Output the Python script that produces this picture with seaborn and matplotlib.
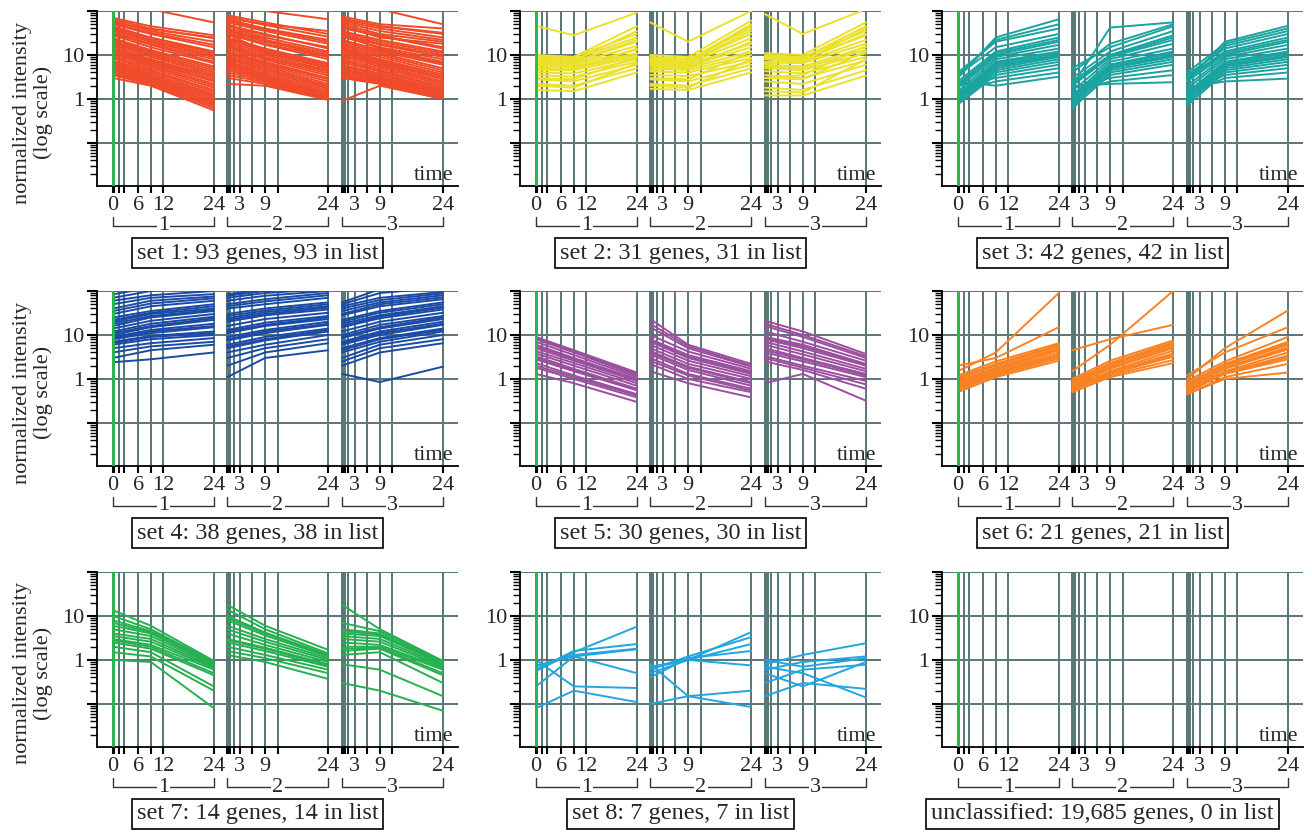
import pandas as pd
import matplotlib
matplotlib.use("Agg")
import matplotlib.pyplot as plt
import seaborn as sns
from matplotlib.ticker import LogLocator, NullFormatter

sns.set_theme(style="white")
plt.rcParams['font.family'] = ['Liberation Serif', 'DejaVu Serif']

# sampling times (hours) of the three series, and where each series sits on the shared x axis
times_1 = [0, 0.3, 1.5, 2.7, 6, 9, 12, 24]
times_23 = [0, 0.3, 0.6, 1.5, 3, 6, 9, 12, 24]
series_offsets = [0, 27.2, 54.5]
series_names = ["1", "2", "3"]
labels_1 = {0: "0", 6: "6", 12: "12", 24: "24"}
labels_23 = {3: "3", 9: "9", 24: "24"}

# each gene: value at t = 0, 9, 24 h for series 1 | series 2 | series 3
knot_times = [0, 9, 24]

set1_genes = [
    [70, 45, 28, 80, 55, 30, 75, 50, 40],
    [65, 40, 24, 72, 48, 26, 68, 45, 32],
    [60, 35, 20, 65, 40, 22, 60, 40, 25],
    [52, 32, 17, 60, 38, 20, 55, 35, 22],
    [50, 30, 15, 55, 35, 18, 50, 30, 20],
    [45, 25, 12, 45, 28, 15, 40, 28, 15],
    [42, 24, 11, 48, 30, 14, 45, 27, 14],
    [38, 22, 10, 40, 25, 12, 35, 22, 12],
    [35, 20, 9, 37, 22, 11, 33, 20, 11],
    [32, 18, 8, 35, 20, 10, 30, 18, 10],
    [30, 17, 7, 32, 18, 9, 28, 17, 9],
    [28, 15, 6.5, 30, 17, 8, 26, 15, 8],
    [24, 13, 5.5, 25, 14, 6.5, 22, 13, 6.5],
    [22, 12, 5, 23, 13, 6, 20, 12, 6],
    [20, 11, 4.5, 22, 12, 5.5, 18, 11, 5],
    [18.5, 10, 4, 20, 11, 5, 16.5, 10, 4.5],
    [17, 9, 3.6, 18, 10, 4.5, 15, 9, 4],
    [15.5, 8, 3.3, 16.5, 9, 4.2, 14, 8, 3.6],
    [14, 7.5, 3, 15, 8.5, 3.8, 13, 7.5, 3.3],
    [13, 7, 2.7, 13.5, 7.8, 3.4, 12, 7, 3],
    [12, 6.5, 2.5, 12, 7, 3, 11, 6.5, 2.8],
    [11, 6, 2.2, 11, 6.5, 2.8, 10, 6, 2.5],
    [10, 5.5, 2, 10, 6, 2.5, 9, 5.5, 2.3],
    [9, 5, 1.8, 9, 5.5, 2.2, 8, 5, 2.1],
    [8.5, 4.5, 1.6, 8.5, 5, 2, 7.5, 4.5, 1.9],
    [7.5, 4.2, 1.45, 7.8, 4.6, 1.85, 6.8, 4.2, 1.75],
    [7, 3.8, 1.3, 7, 4.2, 1.7, 6, 3.8, 1.6],
    [6.5, 3.5, 1.2, 6.5, 3.8, 1.55, 5.5, 3.5, 1.5],
    [6, 3.2, 1.1, 6, 3.5, 1.4, 5, 3.2, 1.4],
    [5.5, 3, 1.0, 5.5, 3.2, 1.3, 4.6, 3, 1.3],
    [5, 2.8, 0.9, 5, 3, 1.2, 4.2, 2.8, 1.2],
    [4.6, 2.6, 0.82, 4.5, 2.8, 1.1, 3.8, 2.6, 1.1],
    [4.2, 2.4, 0.75, 4, 2.6, 1.05, 3.5, 2.4, 1.05],
    [3.8, 2.3, 0.68, 3.5, 2.4, 1.0, 3.2, 2.3, 1.02],
    [3.5, 2.1, 0.62, 3, 2.2, 0.98, 3, 2.2, 1.0],
    [3, 2.0, 0.55, 2.2, 2.0, 0.95, 0.9, 2.0, 1.0],
    [120, 110, 55, 130, 100, 65, 140, 110, 50],
    [55, 38, 25, 70, 50, 35, 65, 45, 30],
    [40, 20, 9, 50, 22, 9, 45, 25, 18],
    [25, 10, 4, 30, 12, 5, 28, 14, 7],
]

set2_genes = [
    [46, 28, 92, 55, 20, 100, 85, 30, 110],
    [10, 9, 45, 10, 9, 60, 11, 10, 55],
    [9, 8, 25, 9, 8, 40, 10, 9, 35],
    [8.5, 7.5, 35, 8.5, 7.5, 50, 9.5, 8.5, 45],
    [8, 7, 20, 8, 7, 30, 9, 8, 28],
    [7.5, 7, 22, 7.5, 7, 35, 8.5, 7.5, 30],
    [7, 6.5, 16, 7, 6.5, 24, 8, 7, 22],
    [6.5, 6, 13, 6.5, 6, 18, 7, 6.5, 18],
    [6, 5.5, 11, 6, 5.5, 15, 6, 5.5, 15],
    [5.5, 5, 10, 5.5, 5, 12, 5.5, 5, 13],
    [5, 4.5, 9, 5, 4.5, 10, 5, 4.5, 11],
    [4, 3.8, 8, 4.2, 4, 8.5, 4.3, 3.8, 9],
    [3.5, 3.2, 7, 3.5, 3.3, 7, 3.5, 3, 7.5],
    [3, 2.8, 9, 3, 2.8, 12, 3, 2.8, 12],
    [2.8, 2.5, 6, 2.8, 2.5, 6, 2.5, 2.2, 6],
    [2.2, 2, 5, 2.2, 2, 5, 1.8, 1.6, 4.5],
    [2, 1.8, 6.5, 2, 1.8, 8, 1.5, 1.4, 8],
    [1.6, 1.5, 4, 1.7, 1.6, 4, 1.2, 1.2, 3.4],
    [9.5, 9, 30, 7, 7.5, 45, 6.5, 7, 40],
    [4.5, 4.5, 14, 4.5, 5, 20, 3, 3.5, 16],
]

set3_genes = [
    [3, 25, 65, 2, 42, 55, 2.5, 20, 46],
    [3.5, 22, 50, 4, 18, 50, 3.2, 16, 35],
    [4, 20, 40, 5, 15, 45, 4, 18, 40],
    [3.5, 15, 30, 3, 12, 35, 3.5, 14, 30],
    [2.5, 12, 25, 2.5, 10, 28, 3, 12, 25],
    [2.2, 11, 22, 2.2, 9.5, 25, 2.8, 11, 22],
    [2, 10, 20, 2, 9, 22, 2.5, 10, 20],
    [1.8, 9, 17, 1.5, 8, 18, 2, 9, 17],
    [1.5, 8, 14, 1.2, 7, 14, 1.7, 8, 14],
    [1.3, 7, 12, 1, 6, 12, 1.4, 7, 12],
    [1.2, 6.5, 11, 1.1, 6, 11, 1.3, 6.5, 11],
    [1.1, 6, 10, 0.9, 5.5, 10, 1.2, 6, 10],
    [1, 5.5, 9.5, 0.85, 5, 9.5, 1.1, 5.8, 9.5],
    [1, 5, 9, 0.8, 5, 9, 1, 5.5, 9],
    [0.9, 4.5, 8, 0.7, 4.5, 8, 0.9, 5, 8],
    [0.8, 4, 7, 0.6, 4, 7, 0.8, 4.5, 7],
    [0.75, 3.5, 6, 0.65, 3.5, 6, 0.7, 4, 6],
    [2, 3, 5, 1.8, 3, 4.5, 1.5, 3.5, 5],
    [1.5, 2.5, 4, 1.4, 2.5, 3.5, 1.2, 3, 4],
    [2.5, 2, 3.2, 2, 2.2, 2.4, 1.8, 2.5, 2.9],
]

set4_genes = [
    [84, 120, 150, 84, 110, 140, 55, 110, 160],
    [70, 100, 130, 78, 100, 120, 50, 90, 120],
    [60, 80, 100, 70, 90, 110, 45, 70, 95],
    [50, 70, 85, 60, 78, 100, 40, 62, 88],
    [40, 60, 75, 50, 65, 90, 35, 55, 80],
    [35, 52, 68, 45, 58, 80, 30, 50, 72],
    [30, 45, 60, 40, 50, 70, 28, 45, 65],
    [25, 35, 50, 30, 40, 55, 22, 35, 55],
    [22, 32, 45, 27, 36, 50, 20, 32, 50],
    [20, 30, 40, 24, 33, 45, 18, 28, 45],
    [18, 27, 37, 22, 30, 42, 16, 26, 42],
    [16, 25, 35, 20, 28, 38, 15, 24, 38],
    [14, 21, 30, 16, 23, 32, 12, 20, 32],
    [12, 18, 26, 13, 19, 27, 10, 17, 27],
    [11, 16, 24, 12, 17, 25, 9, 15, 25],
    [10, 15, 22, 11, 16, 23, 8.5, 14, 23],
    [9, 13, 18, 9, 13, 20, 7, 12, 20],
    [8.5, 12, 16, 8, 12, 18, 6.5, 11, 18],
    [8, 11, 15, 7.5, 11, 17, 6, 10, 17],
    [7, 9.5, 12, 6, 9, 14, 5, 8.5, 14],
    [6.5, 9, 11, 5.5, 8, 13, 4.5, 8, 13],
    [6, 8, 10, 5, 7.5, 12, 4, 7, 12],
    [5, 6.5, 8.5, 4, 6, 10, 3, 6, 10],
    [4, 5.5, 7, 3, 5, 8, 2.5, 5, 8],
    [3, 4.5, 6, 2, 4, 6.5, 2, 4, 6.5],
    [2.4, 2.8, 4, 1.1, 3, 4.5, 1.3, 0.85, 1.9],
]

set5_genes = [
    [9, 4.5, 1.4, 23, 6, 2.2, 21, 12, 3.7],
    [8.5, 4.2, 1.3, 18, 5.5, 2, 18, 10, 3.3],
    [8, 4, 1.2, 15, 5, 1.9, 16, 9, 3],
    [7, 3.5, 1.1, 10, 4.2, 1.7, 12, 7, 2.6],
    [6, 3, 1.0, 8, 3.5, 1.5, 9, 6, 2.2],
    [5.5, 2.8, 0.95, 7.5, 3.2, 1.4, 8.5, 5.5, 2.1],
    [5, 2.6, 0.9, 7, 3, 1.3, 8, 5, 2],
    [4.3, 2.3, 0.8, 6, 2.6, 1.15, 7, 4.2, 1.7],
    [3.8, 2, 0.7, 5, 2.2, 1.0, 6, 3.6, 1.5],
    [3.3, 1.7, 0.6, 4.3, 1.9, 0.85, 5, 3, 1.3],
    [3, 1.6, 0.58, 4, 1.8, 0.8, 4.5, 2.8, 1.2],
    [2.8, 1.5, 0.55, 3.6, 1.6, 0.7, 4, 2.5, 1.1],
    [2.3, 1.2, 0.45, 3, 1.3, 0.6, 3.3, 2, 0.9],
    [2, 1.1, 0.42, 2.6, 1.2, 0.55, 3, 1.8, 0.75],
    [1.8, 1, 0.38, 2.2, 1.0, 0.5, 2.5, 1.6, 0.6],
    [1.3, 0.8, 0.3, 1.5, 0.8, 0.38, 0.8, 1.3, 0.32],
]

set6_genes = [
    [1.5, 4, 90, 1.5, 6, 100, 1, 5, 36],
    [2, 3, 15, 4.5, 8, 17, 1.2, 4, 15],
    [1.2, 2.5, 6.5, 1, 2.6, 7.5, 0.9, 2.5, 9],
    [1.1, 2.2, 6, 0.9, 2.3, 6.8, 0.8, 2.2, 7],
    [1.05, 2.1, 5.8, 0.85, 2.2, 6.4, 0.78, 2.1, 6.5],
    [1, 2, 5.5, 0.8, 2.1, 6, 0.75, 2, 6],
    [0.9, 1.8, 5, 0.75, 1.9, 5.5, 0.7, 1.8, 5.3],
    [0.85, 1.7, 4.8, 0.72, 1.8, 5.2, 0.68, 1.75, 5],
    [0.8, 1.6, 4.5, 0.7, 1.7, 5, 0.65, 1.7, 4.7],
    [0.75, 1.5, 4, 0.65, 1.5, 4.4, 0.6, 1.5, 4],
    [0.7, 1.4, 3.6, 0.6, 1.4, 3.8, 0.55, 1.4, 3.4],
    [0.65, 1.35, 3.4, 0.58, 1.35, 3.5, 0.52, 1.35, 3.1],
    [0.6, 1.3, 3.2, 0.55, 1.3, 3.2, 0.5, 1.3, 2.8],
    [0.55, 1.2, 2.9, 0.5, 1.2, 2.7, 0.45, 1.1, 2.2],
    [0.5, 1.1, 2.6, 0.5, 1.1, 2.3, 0.45, 1.0, 1.4],
]

set7_genes = [
    [13.5, 6, 0.95, 18, 6, 1.7, 18, 5, 0.95],
    [10, 5, 0.9, 14, 5, 1.4, 7, 4.5, 0.9],
    [8, 4.5, 0.85, 10, 4.2, 1.3, 5, 4, 0.85],
    [7, 4.2, 0.82, 9, 4, 1.25, 4.5, 3.8, 0.82],
    [6, 4, 0.8, 8, 3.6, 1.2, 4, 3.5, 0.8],
    [5, 3.5, 0.75, 6, 3, 1.1, 3.5, 3, 0.75],
    [4, 3, 0.7, 5, 2.6, 1.0, 3, 2.6, 0.7],
    [3.5, 2.6, 0.65, 4, 2.2, 0.9, 2.5, 2.2, 0.65],
    [3, 2.2, 0.6, 3, 1.9, 0.8, 2, 2.0, 0.6],
    [2.8, 2, 0.5, 2.8, 1.8, 0.75, 1.8, 1.9, 0.5],
    [2.5, 1.8, 0.45, 2.5, 1.6, 0.7, 1.6, 1.8, 0.45],
    [2, 1.5, 0.25, 2, 1.3, 0.6, 1.3, 1.5, 0.3],
    [1.5, 1.2, 0.2, 1.6, 1.1, 0.5, 0.8, 0.6, 0.15],
    [1, 0.9, 0.08, 1.3, 0.9, 0.37, 0.3, 0.2, 0.07],
]

set8_genes = [
    [0.56, 1.5, 5.7, 0.7, 1.0, 4.3, 0.8, 1.3, 2.4],
    [0.6, 1.6, 2.3, 0.6, 1.2, 3.3, 0.6, 0.9, 1.2],
    [0.7, 1.3, 1.8, 0.5, 1.0, 2.3, 1.0, 0.7, 1.1],
    [1.0, 0.25, 0.23, 0.8, 0.15, 0.085, 0.7, 0.5, 0.14],
    [0.75, 1.2, 0.5, 0.65, 1.0, 0.75, 0.5, 0.25, 0.9],
    [0.25, 1.2, 1.75, 0.1, 0.15, 0.2, 0.3, 0.6, 0.78],
    [0.08, 0.2, 0.11, 0.4, 1.1, 1.6, 0.15, 0.3, 0.22],
]

set_genes = [set1_genes, set2_genes, set3_genes, set4_genes, set5_genes,
             set6_genes, set7_genes, set8_genes, []]
set_colors = ["#f04a28", "#ebe02a", "#1aa3a0", "#1a4aa5", "#9b4f9f",
              "#f98224", "#26b050", "#22a5e0", "#000000"]
set_titles = ["set 1: 93 genes, 93 in list", "set 2: 31 genes, 31 in list",
              "set 3: 42 genes, 42 in list", "set 4: 38 genes, 38 in list",
              "set 5: 30 genes, 30 in list", "set 6: 21 genes, 21 in list",
              "set 7: 14 genes, 14 in list", "set 8: 7 genes, 7 in list",
              "unclassified: 19,685 genes, 0 in list"]

grid_col = "#587676"
W, H = 1312, 832
col_left = [97, 520, 942]
row_top = [11, 291, 572]
ax_w, ax_h = 361, 175

# x tick positions and labels shared by all panels
xticks, xlabels = [], []
for k, off in enumerate(series_offsets):
    tt = times_1 if k == 0 else times_23
    lab = labels_1 if k == 0 else labels_23
    for t in tt:
        xticks.append(off + t)
        xlabels.append(lab.get(t, ""))

fig = plt.figure(figsize=(W / 100, H / 100), dpi=100)

for n in range(9):
    r, c = divmod(n, 3)
    ax = fig.add_axes([col_left[c] / W, 1 - (row_top[r] + ax_h) / H, ax_w / W, ax_h / H])

    rows = []
    for i, g in enumerate(set_genes[n]):
        for k, off in enumerate(series_offsets):
            for j, t in enumerate(knot_times):
                rows.append({"x": off + t, "value": g[3 * k + j], "unit": f"{i}-{k}"})
    if rows:
        df = pd.DataFrame(rows)
        sns.lineplot(data=df, x="x", y="value", units="unit", estimator=None,
                     color=set_colors[n], lw=1.4, ax=ax, legend=False, sort=True, zorder=2)

    ax.set_yscale("log")
    ax.set_ylim(10 ** -1.98, 100)
    ax.set_xlim(-3.8, 82.1)
    ax.set_xlabel("")
    ax.set_ylabel("")

    ax.set_yticks([0.1, 1, 10, 100])
    ax.set_yticklabels(["", "1", "10", ""])
    ax.yaxis.set_minor_locator(LogLocator(base=10, subs=[2, 3, 4, 5, 6, 7, 8, 9], numticks=50))
    ax.yaxis.set_minor_formatter(NullFormatter())
    ax.set_xticks(xticks)
    ax.set_xticklabels(xlabels)

    ax.tick_params(axis="both", which="both", bottom=True, left=True, direction="out",
                   color="black")
    ax.tick_params(axis="y", which="major", length=7, width=1.5, labelsize=16, pad=2)
    ax.tick_params(axis="y", which="minor", length=5, width=1.0)
    ax.tick_params(axis="x", which="major", length=5, width=1.5, labelsize=16, pad=2)

    ax.grid(True, which="major", color=grid_col, lw=1.4)
    ax.set_axisbelow(True)
    for s in ["top", "right"]:
        ax.spines[s].set_visible(False)
    for s in ["left", "bottom"]:
        ax.spines[s].set_color("black")
        ax.spines[s].set_linewidth(1.3)

    ax.axvline(0, color="#2bb84a", lw=2, zorder=3)
    ax.text(0.986, 0.034, "time", transform=ax.transAxes, ha="right", va="baseline", fontsize=16)

    # brackets naming the three series
    xt = ax.get_xaxis_transform()
    y_top, y_bot = -31 / ax_h, -40 / ax_h
    for k, off in enumerate(series_offsets):
        ax.plot([off, off, off + 24, off + 24], [y_top, y_bot, y_bot, y_top], transform=xt,
                color="#333333", lw=1.0, clip_on=False)
        ax.text(off + 12, y_bot, series_names[k], transform=xt, ha="center", va="center",
                fontsize=16, bbox=dict(fc="white", ec="none", pad=1))

    ax.text(0.445, -67 / ax_h, set_titles[n], transform=ax.transAxes, ha="center", va="center",
            fontsize=17.5, bbox=dict(boxstyle="square,pad=0.2", fc="white", ec="black", lw=1.2))

    if c == 0:
        ax.set_ylabel("normalized intensity\n(log scale)", fontsize=16, linespacing=1.1)
        ax.yaxis.set_label_coords(-0.122, 0.42)

fig.savefig("out.png", dpi=100)
